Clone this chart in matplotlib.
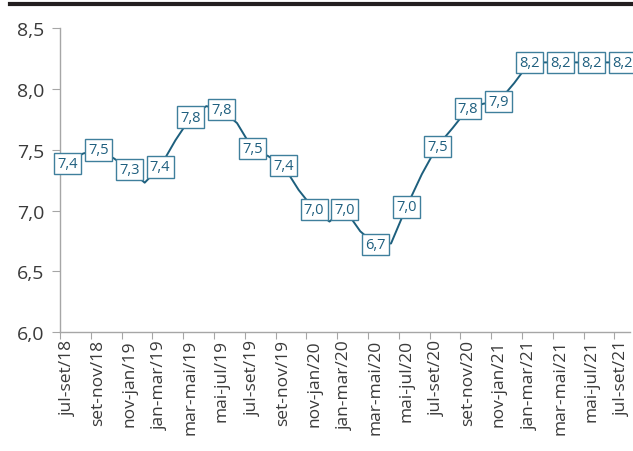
import matplotlib
matplotlib.use("Agg")
import matplotlib.pyplot as plt
from matplotlib.lines import Line2D

# ---------------------------------------------------------------------------
# Data (monthly moving quarters)
# ---------------------------------------------------------------------------
tick_labels = [
    "jul-set/18", "set-nov/18", "nov-jan/19", "jan-mar/19", "mar-mai/19",
    "mai-jul/19", "jul-set/19", "set-nov/19", "nov-jan/20", "jan-mar/20",
    "mar-mai/20", "mai-jul/20", "jul-set/20", "set-nov/20", "nov-jan/21",
    "jan-mar/21", "mar-mai/21", "mai-jul/21", "jul-set/21",
]
values = [
    7.39, 7.47, 7.50, 7.43, 7.34, 7.23, 7.36, 7.58, 7.77, 7.86,
    7.83, 7.72, 7.51, 7.45, 7.37, 7.17, 7.01, 6.91, 7.01, 6.83,
    6.72, 6.73, 7.03, 7.30, 7.53, 7.68, 7.84, 7.88, 7.90, 8.05,
    8.22, 8.22, 8.22, 8.22, 8.22, 8.22, 8.22,
]
yticks = [6.0, 6.5, 7.0, 7.5, 8.0, 8.5]

LINE_C  = "#1d5f7d"
BOX_C   = "#3f7f9c"
TEXT_C  = "#1f5f7f"
AXIS_C  = "#a6a6a6"
TICK_TC = "#3a3a3a"

plt.rcParams["font.family"] = ["Open Sans", "DejaVu Sans"]

fig = plt.figure(figsize=(6.33, 4.52), dpi=100)
ax = fig.add_axes([0.0948, 0.263, 0.9, 0.672])

x = list(range(len(values)))
ax.plot(x, values, color=LINE_C, lw=1.4, zorder=2)

# data labels on every other month
for i in range(0, len(values), 2):
    ax.text(i, values[i], f"{values[i]:.1f}".replace(".", ","),
            ha="center", va="center", fontsize=10.5, color=TEXT_C, zorder=3,
            bbox=dict(boxstyle="square,pad=0.22", fc="white", ec=BOX_C, lw=1.0))

ax.set_xlim(-0.5, len(values) - 0.5)
ax.set_ylim(6.0, 8.5)

ax.set_yticks(yticks)
ax.set_yticklabels([f"{v:.1f}".replace(".", ",") for v in yticks])

# tick marks between label pairs, labels at even months
ax.set_xticks([k - 0.5 for k in range(0, len(values) + 1, 2)])
ax.set_xticklabels([])
ax.set_xticks(list(range(0, len(values), 2)), minor=True)
ax.set_xticklabels(tick_labels, minor=True, rotation=90)
ax.tick_params(axis="x", which="minor", length=0, pad=5, labelsize=12.5, labelcolor=TICK_TC)
ax.tick_params(axis="x", which="major", length=5, color=AXIS_C)
ax.tick_params(axis="y", length=6, color=AXIS_C, labelsize=14, labelcolor=TICK_TC, pad=5)

for s in ["top", "right"]:
    ax.spines[s].set_visible(False)
for s in ["left", "bottom"]:
    ax.spines[s].set_color(AXIS_C)
    ax.spines[s].set_linewidth(1.0)

# heavy rule across the top
fig.add_artist(Line2D([10 / 633, 1.0], [1 - 5 / 452, 1 - 5 / 452],
                      color="#231f20", lw=3.0, transform=fig.transFigure))

fig.savefig("out.png", dpi=100)
